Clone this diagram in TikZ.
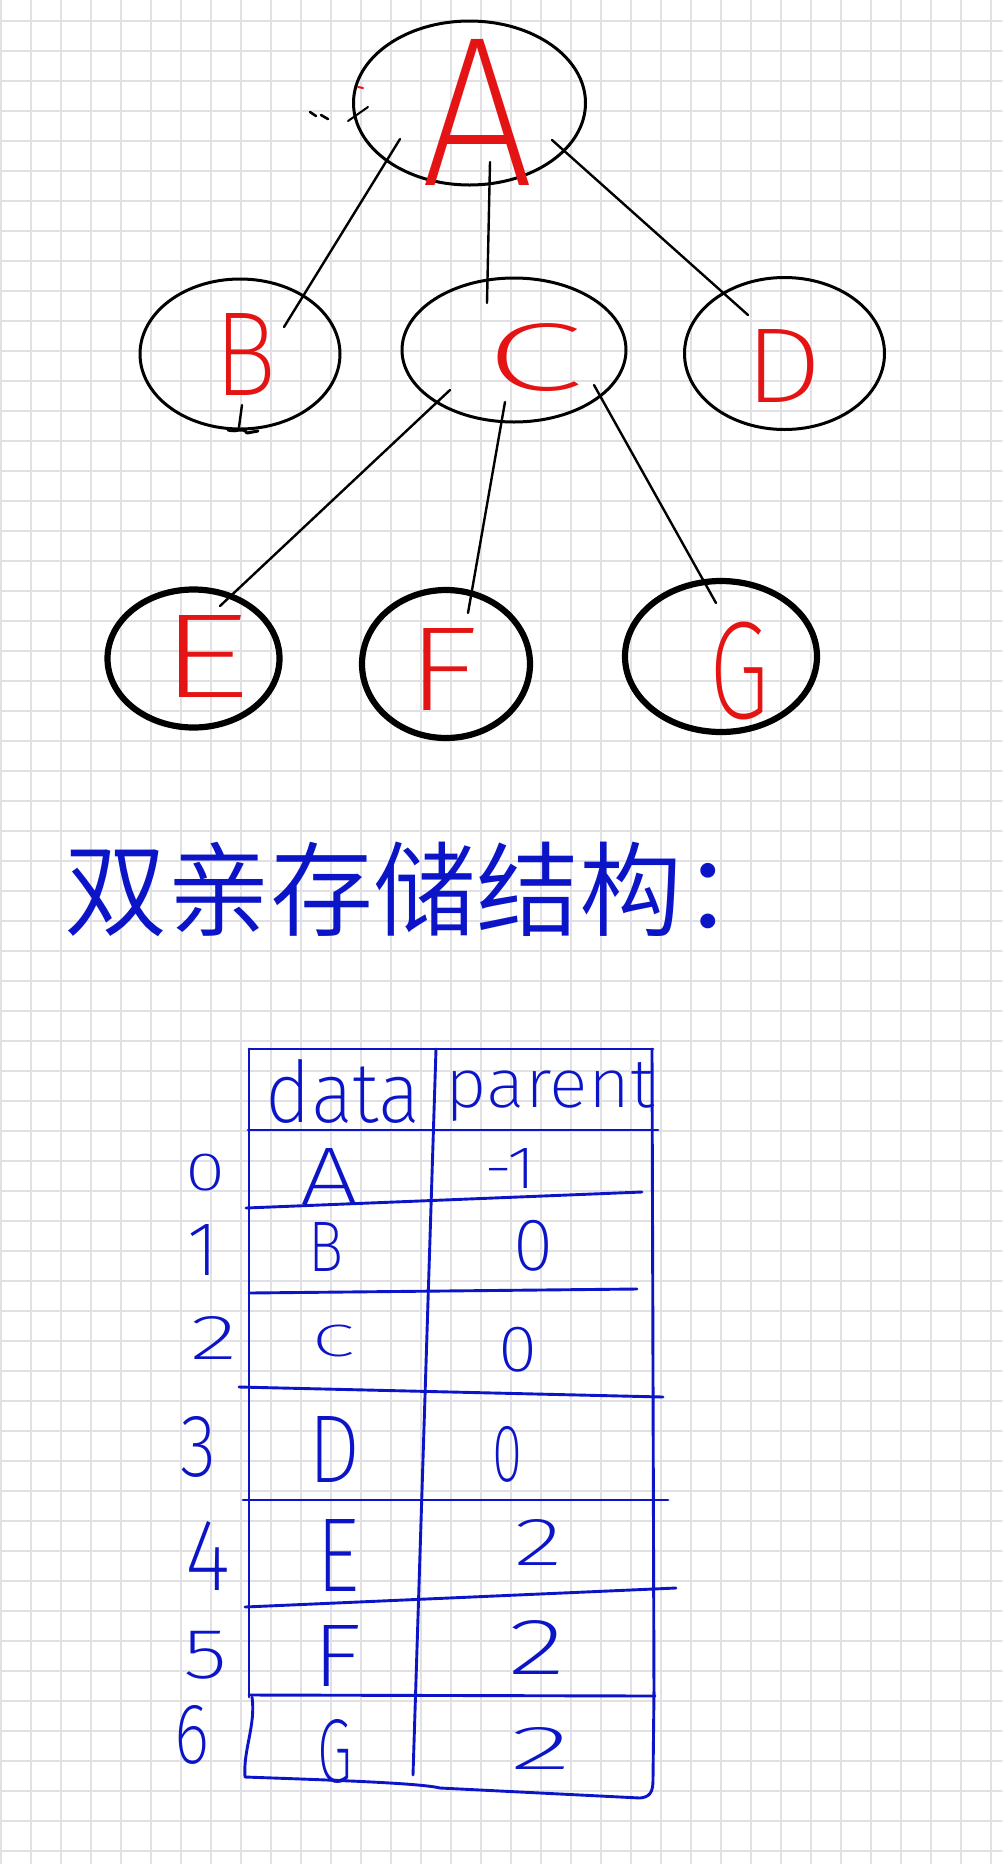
\documentclass[tikz,border=0pt]{standalone}
\usepackage{fontspec}
\usepackage{graphicx}
\usetikzlibrary{shapes.geometric,calc}
\IfFontExistsTF{Fira Sans ExtraLight}{\newfontfamily\handb{Fira Sans ExtraLight}}{%
  \IfFontExistsTF{Fira Sans Light}{\newfontfamily\handb{Fira Sans Light}}{\newfontfamily\handb{Fira Sans}}}
\IfFontExistsTF{Noto Sans CJK SC DemiLight}{\newfontfamily\cjkfont{Noto Sans CJK SC DemiLight}}{\newfontfamily\cjkfont{Noto Sans CJK SC}}
\definecolor{hred}{RGB}{228,20,20}
\definecolor{hblue}{RGB}{12,20,200}
\definecolor{gridc}{RGB}{224,224,229}
\newlength\pxu
\setlength\pxu{0.5pt}
\newcommand{\bwx}[3]{\resizebox*{#1\pxu}{#2\pxu}{\handb #3}}
\newcommand{\bwy}[2]{\resizebox*{!}{#1\pxu}{\handb #2}}
\begin{document}
\begin{tikzpicture}[x=0.5pt,y=-0.5pt,line cap=round,line join=round,
  tnode/.style={ellipse,draw=black,line width=1.5pt,inner sep=0pt},
  tthick/.style={tnode,line width=3.1pt},
  link/.style={line width=1.2pt,draw=black},
  rlab/.style={inner sep=0pt,text=hred},
  blab/.style={inner sep=0pt,text=hblue},
  tline/.style={draw=hblue,line width=1.45pt},
  gridline/.style={draw=gridc,line width=0.8pt}]
\fill[white] (0,0) rectangle (1002,1864);
\useasboundingbox (0,0) rectangle (1002,1864);
\foreach \i in {0,...,33} \draw[gridline] ({1+30*\i},0) -- ({1+30*\i},1864);
\foreach \j in {0,...,61} \draw[gridline] (0,{21+30*\j}) -- (1002,{21+30*\j});

% tree nodes
\node[tnode,minimum width=116pt,minimum height=82pt] (A) at (469.5,103) {};
\node[tnode,minimum width=100pt,minimum height=75pt] (B) at (240,354) {};
\node[tnode,minimum width=112pt,minimum height=72pt] (C) at (514,350) {};
\node[tnode,minimum width=100pt,minimum height=76pt] (D) at (784.5,353.5) {};
\node[tthick,minimum width=86pt,minimum height=69pt] (E) at (193.5,658.5) {};
\node[tthick,minimum width=84pt,minimum height=74pt] (F) at (446,664) {};
\node[tthick,minimum width=96pt,minimum height=75.5pt] (G) at (721,656.5) {};

\node[rlab] (lA) at (478,112) {\bwx{112}{146}{A}};
\node[rlab] (lB) at (246,354) {\bwx{62}{82}{B}};
\node[rlab] (lC) at (535,358) {\bwx{98}{68}{C}};
\node[rlab] (lD) at (784,366) {\bwx{78}{73}{D}};
\node[rlab] (lE) at (205,656) {\bwx{92}{82}{E}};
\node[rlab] (lF) at (442,669) {\bwx{72}{82}{F}};
\node[rlab] (lG) at (739,671) {\bwx{60}{98}{G}};

% connectors
\draw[link] ($(A)+(-69.5,36)$) -- ($(B)+(44,-27)$);
\draw[link] ($(A)+(20.5,59)$) -- ($(C)+(-27,-47)$);
\draw[link] ($(A)+(82.5,37)$) -- ($(D)+(-36.5,-38.5)$);
\draw[link] ($(C)+(-64,40)$) -- ($(E)+(26.5,-52.5)$);
\draw[link] ($(C)+(-9,52)$) -- ($(F)+(22,-51)$);
\draw[link] ($(C)+(80,35)$) -- ($(G)+(-5,-53.5)$);

% stray pen marks
\draw[line width=1.3pt] (310,112) -- (316,116);
\draw[line width=1.3pt] (321,115) -- (328,119);
\draw[line width=1pt] (348,121) -- (368,107);
\draw[hred,line width=1pt] (358,87) -- (363,88);
\draw[line width=1.2pt] (242,405) -- (239,427);
\draw[line width=1.5pt] (228,430) .. controls (238,433) and (242,426) .. (247,433) -- (258,431);

% title
\node[anchor=base west,inner sep=0pt,text=hblue] (title) at (64,928)
  {\fontsize{51.5pt}{51.5pt}\selectfont\cjkfont 双亲存储结构：};

% table
\draw[tline] (249,1049) -- (653,1049);
\draw[tline] (249,1049) -- (249,1697);
\draw[tline] (652,1049) -- (654,1697);
\draw[tline] (436,1049) -- (413,1775);
\draw[tline] (248,1130) -- (658,1130);
\draw[tline] (246,1208) -- (642,1192);
\draw[tline] (249,1293) -- (637,1289);
\draw[tline] (239,1387) -- (663,1397);
\draw[tline] (243,1500) -- (668,1500);
\draw[tline] (245,1607) -- (676,1588);
\draw[tline] (249,1695) -- (655,1696);
\draw[tline] (252,1697) .. controls (256,1725) and (243,1750) .. (245,1777)
  .. controls (330,1780) and (420,1783) .. (440,1788) -- (640,1798)
  .. controls (650,1797) and (653,1792) .. (653,1780) -- (654,1692);

\node[blab] (hdata) at (343,1091) {\bwx{155}{64}{data}};
\node[blab] (hparent) at (550,1092) {\bwx{208}{59}{parent}};

\node[blab] (i0) at (206,1173) {\bwx{40}{37}{0}};
\node[blab] (i1) at (203,1250) {\bwy{51}{1}};
\node[blab] (i2) at (214,1338) {\bwx{47}{43}{2}};
\node[blab] (i3) at (199,1447) {\bwx{36}{61}{3}};
\node[blab] (i4) at (208,1556) {\bwx{45}{69}{4}};
\node[blab] (i5) at (206,1655) {\bwx{44}{48}{5}};
\node[blab] (i6) at (192,1735) {\bwx{35}{59}{6}};

\node[blab] (dA) at (330,1176) {\bwx{58}{56}{A}};
\node[blab] (dB) at (326,1247) {\bwx{35}{49}{B}};
\node[blab] (dC) at (334,1341) {\bwx{42}{32}{C}};
\node[blab] (dD) at (334,1449) {\bwx{52}{66}{D}};
\node[blab] (dE) at (338,1555) {\bwx{43}{72}{E}};
\node[blab] (dF) at (337,1656) {\bwx{49}{61}{F}};
\node[blab] (dG) at (335,1751) {\bwx{35}{64}{G}};

\node[blab] (p0) at (510,1168) {\bwx{52}{40}{-1}};
\node[blab] (p1) at (533,1246) {\bwx{40}{51}{0}};
\node[blab] (p2) at (518,1350) {\bwx{39}{45}{0}};
\node[blab] (p3) at (507,1454) {\bwx{30}{56}{0}};
\node[blab] (p4) at (539,1542) {\bwx{48}{46}{2}};
\node[blab] (p5) at (537,1647) {\bwx{57}{54}{2}};
\node[blab] (p6) at (541,1748) {\bwx{61}{42}{2}};
\end{tikzpicture}
\end{document}
